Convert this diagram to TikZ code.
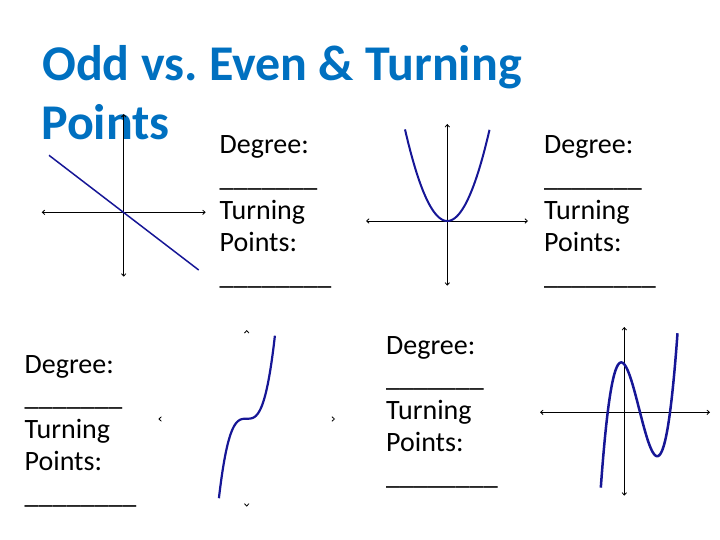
\documentclass[tikz,border=0pt]{standalone}
\usepackage{fontspec}
\setmainfont{Carlito}
\usetikzlibrary{arrows.meta}
\definecolor{titleblue}{RGB}{0,112,192}
\definecolor{curveblue}{RGB}{22,22,150}
\frenchspacing
\begin{document}
\begin{tikzpicture}[x=1pt,y=-1pt,
  tip/.tip={Straight Barb[length=2.5pt,width=4.5pt,line width=0.8pt]},
  axis/.style={line width=0.9pt, black, tip-tip},
  ghostaxis/.style={line width=0.9pt, white, {Straight Barb[length=2.5pt,width=4.5pt,line width=0.8pt,color=black]}-{Straight Barb[length=2.5pt,width=4.5pt,line width=0.8pt,color=black]}},
  curve/.style={curveblue, line width=2.2pt, line join=round},
  lbl/.style={anchor=base west, inner sep=0pt, font=\fontsize{28}{32}\selectfont},
  ttl/.style={anchor=base west, inner sep=0pt, text=titleblue, font=\fontsize{50}{60}\selectfont\bfseries}]
\useasboundingbox (0,0) rectangle (720,540);

% title
\node[ttl] (t1) at (42,80.5) {Odd vs.\ Even \& Turning};
\node[ttl] (t2) at (41,139.3) {Points};

% graph 1: line
\coordinate (g1l) at (41.7,212.3);
\coordinate (g1r) at (205.7,212.3);
\coordinate (g1t) at (123.7,114);
\coordinate (g1b) at (123.7,276.7);
\coordinate (g1s) at (49,155.3);
\coordinate (g1e) at (198.7,270);
\draw[axis] (g1l) -- (g1r);
\draw[axis] (g1b) -- (g1t);
\draw[curveblue, line width=1.5pt] (g1s) -- (g1e);

% graph 2: parabola
\coordinate (g2l) at (366,221);
\coordinate (g2r) at (528,221);
\coordinate (g2t) at (447.3,124);
\coordinate (g2b) at (447.3,285.7);
\draw[axis] (g2l) -- (g2r);
\draw[axis] (g2b) -- (g2t);
\draw[curve, line width=2pt] plot[domain=-42.3:42.2, samples=60] ({447.3+\x},{221-(0.0512*\x)*\x});

% graph 3: cubic x^3 (axes only show their tips)
\coordinate (g3l) at (158.3,419);
\coordinate (g3r) at (335,419);
\coordinate (g3t) at (246.7,330);
\coordinate (g3b) at (246.7,506.7);
\draw[ghostaxis] (g3l) -- (g3r);
\draw[ghostaxis] (g3b) -- (g3t);
\draw[curve] plot[domain=-27.8:28.2, samples=80] ({246.7+\x},{418.7-(0.1547*\x)^3});

% graph 4: cubic with two turning points
\coordinate (g4l) at (540,412.3);
\coordinate (g4r) at (710,412.3);
\coordinate (g4t) at (624.3,327);
\coordinate (g4b) at (624.3,495.7);
\draw[axis] (g4l) -- (g4r);
\draw[axis] (g4b) -- (g4t);
\draw[curve, line width=2.5pt] plot[domain=-23.5:53.2, samples=100] ({624.3+\x},{412.3-(0.00403*(\x+16.6))*((\x-15.7)*(\x-45.7))});

% answer blocks
\node[lbl] (a1) at (219.5,154) {Degree:};
\node[lbl] (a2) at (219.5,186.5) {\_\_\_\_\_\_\_};
\node[lbl] (a3) at (219.5,219) {Turning};
\node[lbl] (a4) at (219.5,251.5) {Points:};
\node[lbl] (a5) at (219.5,284) {\_\_\_\_\_\_\_\_};

\node[lbl] (b1) at (544,154) {Degree:};
\node[lbl] (b2) at (544,186.5) {\_\_\_\_\_\_\_};
\node[lbl] (b3) at (544,219) {Turning};
\node[lbl] (b4) at (544,251.5) {Points:};
\node[lbl] (b5) at (544,284) {\_\_\_\_\_\_\_\_};

\node[lbl] (c1) at (24.5,373.3) {Degree:};
\node[lbl] (c2) at (24.5,405.8) {\_\_\_\_\_\_\_};
\node[lbl] (c3) at (24.5,438.3) {Turning};
\node[lbl] (c4) at (24.5,470.8) {Points:};
\node[lbl] (c5) at (24.5,503.3) {\_\_\_\_\_\_\_\_};

\node[lbl] (d1) at (386,354.3) {Degree:};
\node[lbl] (d2) at (386,386.8) {\_\_\_\_\_\_\_};
\node[lbl] (d3) at (386,419.3) {Turning};
\node[lbl] (d4) at (386,451.8) {Points:};
\node[lbl] (d5) at (386,484.3) {\_\_\_\_\_\_\_\_};
\end{tikzpicture}
\end{document}
